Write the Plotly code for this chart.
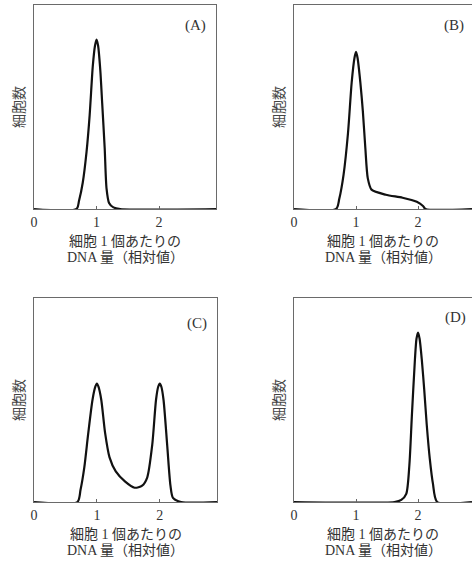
import plotly.graph_objects as go

# DNA content (relative) vs relative cell count
A_x = [0, 0.68, 0.72, 0.78, 0.84, 0.89, 0.94, 0.975, 1.00, 1.025, 1.06, 1.09, 1.13, 1.16, 1.20, 1.27, 1.38, 2.91]
A_y = [0, 0, 0.04, 0.13, 0.28, 0.46, 0.70, 0.80, 0.83, 0.80, 0.68, 0.52, 0.30, 0.10, 0.03, 0.008, 0, 0]

B_x = [0, 0.68, 0.73, 0.80, 0.87, 0.93, 0.975, 1.00, 1.025, 1.07, 1.11, 1.15, 1.19, 1.25, 1.48, 1.75, 1.98, 2.08, 2.12, 2.87]
B_y = [0, 0, 0.05, 0.17, 0.37, 0.62, 0.74, 0.77, 0.74, 0.62, 0.48, 0.30, 0.15, 0.095, 0.07, 0.055, 0.035, 0.015, 0, 0]

C_x = [0, 0.69, 0.74, 0.80, 0.86, 0.93, 0.975, 1.00, 1.025, 1.07, 1.13, 1.20, 1.30, 1.45, 1.60, 1.72, 1.80, 1.88, 1.94, 1.975, 2.00, 2.025, 2.06, 2.12, 2.17, 2.21, 2.34, 2.91]
C_y = [0, 0, 0.06, 0.17, 0.33, 0.50, 0.565, 0.58, 0.565, 0.50, 0.34, 0.22, 0.15, 0.10, 0.07, 0.08, 0.12, 0.28, 0.50, 0.565, 0.58, 0.565, 0.50, 0.27, 0.08, 0.02, 0, 0]

D_x = [0, 1.62, 1.73, 1.81, 1.86, 1.90, 1.95, 1.975, 2.00, 2.025, 2.06, 2.10, 2.14, 2.19, 2.24, 2.31, 2.87]
D_y = [0, 0, 0.01, 0.04, 0.18, 0.42, 0.70, 0.80, 0.83, 0.80, 0.70, 0.55, 0.38, 0.21, 0.09, 0, 0]

tick_vals = [0, 1, 2]
tick_text = ["0", "1", "2"]
panel_labels = ["(A)", "(B)", "(C)", "(D)"]
x_title_1 = "細胞 1 個あたりの"
x_title_2 = "DNA 量（相対値）"
y_title = "細胞数"

series = [(A_x, A_y), (B_x, B_y), (C_x, C_y), (D_x, D_y)]

W, H = 472, 564
ml, mr, mt, mb = 34, 0, 5, 62
pw = W - ml - mr
ph = H - mt - mb

def px_x(p):
    return (p - ml) / pw

def px_y(p):
    return (H - mb - p) / ph

domains_x = [[0, px_x(216)], [px_x(294), 1], [0, px_x(217)], [px_x(294), 1]]
domains_y = [[px_y(209), 1], [px_y(209), 1], [0, px_y(298)], [0, px_y(298)]]
x_ranges = [[0, 2.91], [0, 2.87], [0, 2.91], [0, 2.87]]
label_pos = [(0.885, 0.90), (0.90, 0.90), (0.89, 0.877), (0.905, 0.905)]
right_border = [True, False, True, False]

serif = "Liberation Serif, Noto Sans CJK JP, serif"
jp = "Liberation Serif, Noto Sans CJK JP"

fig = go.Figure()
annotations = []
for i, (xs, ys) in enumerate(series):
    n = "" if i == 0 else str(i + 1)
    fig.add_trace(go.Scatter(
        x=xs, y=ys, mode="lines",
        line=dict(color="#111111", width=2.2, shape="spline", smoothing=0.7),
        xaxis="x" + n, yaxis="y" + n, showlegend=False, hoverinfo="skip",
    ))
    fig.layout["xaxis" + n] = dict(
        domain=domains_x[i], range=x_ranges[i], anchor="y" + n,
        tickvals=tick_vals, ticktext=tick_text, ticks="inside", ticklen=3,
        tickcolor="#666", tickwidth=1,
        showline=True, linecolor="#6a6a6a", linewidth=1.4, mirror=True,
        showgrid=False, zeroline=False,
        tickfont=dict(family=serif, size=14, color="#333"),
        fixedrange=True,
    )
    fig.layout["yaxis" + n] = dict(
        domain=domains_y[i], range=[0, 1], anchor="x" + n,
        showticklabels=False, ticks="",
        showline=True, linecolor="#6a6a6a", linewidth=1.4,
        mirror=right_border[i],
        showgrid=False, zeroline=False, fixedrange=True,
    )
    xref = "x" + n + " domain"
    yref = "y" + n + " domain"
    lx, ly = label_pos[i]
    annotations.append(dict(
        text=panel_labels[i], x=lx, y=ly, xref=xref, yref=yref,
        showarrow=False, font=dict(family=serif, size=15, color="#333"),
        xanchor="center", yanchor="middle",
    ))
    annotations.append(dict(
        text=x_title_1, x=0.5, y=0, xref=xref, yref=yref,
        yshift=-32, showarrow=False, xanchor="center", yanchor="middle",
        font=dict(family=jp, size=14, color="#333"),
    ))
    annotations.append(dict(
        text=x_title_2, x=0.5, y=0, xref=xref, yref=yref,
        yshift=-48, showarrow=False, xanchor="center", yanchor="middle",
        font=dict(family=jp, size=14, color="#333"),
    ))
    annotations.append(dict(
        text=y_title, x=0, y=0.5, xref=xref, yref=yref, xshift=-16,
        showarrow=False, textangle=-90, xanchor="center", yanchor="middle",
        font=dict(family="Noto Sans CJK JP", size=14, color="#444"),
    ))

fig.update_layout(
    width=W, height=H,
    margin=dict(l=ml, r=mr, t=mt, b=mb),
    paper_bgcolor="white", plot_bgcolor="white",
    annotations=annotations,
    showlegend=False,
)

fig.write_html(
    "out.html",
    config={"displayModeBar": False},
    post_script="document.body.style.margin='0';document.body.style.overflow='hidden';",
)
